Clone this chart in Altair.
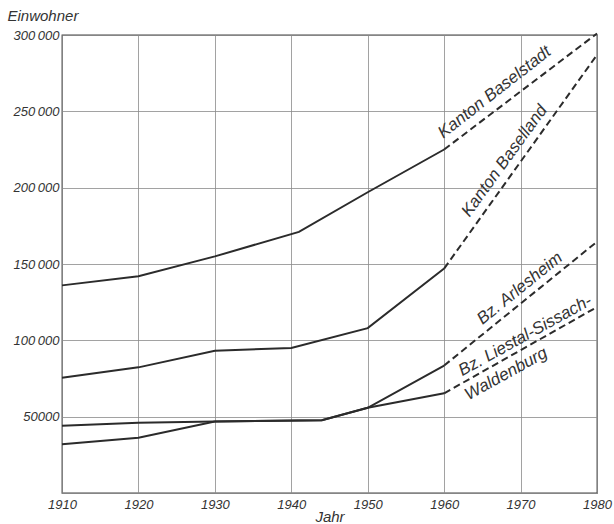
import altair as alt
import pandas as pd

# Observed series (solid) and projection to 1980 (dashed)
bs_years = [1910, 1920, 1930, 1941, 1950, 1960]
bs_vals = [136000, 142000, 155000, 171000, 197000, 225000]
bl_years = [1910, 1920, 1930, 1940, 1950, 1960]
bl_vals = [75500, 82300, 93200, 95000, 108000, 147000]
ar_years = [1910, 1920, 1930, 1944, 1950, 1960]
ar_vals = [32000, 36200, 46800, 47600, 55800, 83500]
lsw_years = [1910, 1920, 1930, 1944, 1950, 1960]
lsw_vals = [44100, 46000, 46800, 47600, 55800, 65300]

proj_1980 = {"Baselstadt": 301000, "Baselland": 287000, "Arlesheim": 164600, "LSW": 121800}

series = {
    "Baselstadt": (bs_years, bs_vals),
    "Baselland": (bl_years, bl_vals),
    "Arlesheim": (ar_years, ar_vals),
    "LSW": (lsw_years, lsw_vals),
}

solid_rows, dash_rows = [], []
for name, (ys, vs) in series.items():
    for y, v in zip(ys, vs):
        solid_rows.append({"series": name, "year": y, "value": v})
    dash_rows.append({"series": name, "year": ys[-1], "value": vs[-1]})
    dash_rows.append({"series": name, "year": 1980, "value": proj_1980[name]})

solid = pd.DataFrame(solid_rows)
dashed = pd.DataFrame(dash_rows)

label_text = ["Kanton Baselstadt", "Kanton Baselland", "Bz. Arlesheim", "Bz. Liestal-Sissach-", "Waldenburg"]
label_year = [1966.6, 1967.9, 1969.9, 1970.6, 1968.1]
label_value = [262500, 217500, 134000, 103000, 78000]
label_angle = [322, 306, 321, 331, 331]
labels = pd.DataFrame({"text": label_text, "year": label_year, "value": label_value, "angle": label_angle})

FONT = "Liberation Sans"
LINE = "#2b2b2b"

xs = alt.Scale(domain=[1910, 1980], nice=False)
ysc = alt.Scale(domain=[0, 300000], nice=False)

thin = "\u2009"
y_axis = alt.Axis(
    values=[0, 50000, 100000, 150000, 200000, 250000, 300000],
    labelExpr=f"datum.value == 0 ? '' : datum.value < 100000 ? '' + datum.value : floor(datum.value/1000) + '{thin}000'",
    title="Einwohner", titleAngle=0, titleX=-55, titleY=-15, titleAlign="left",
    titleBaseline="alphabetic", titleFont=FONT, titleFontSize=15, titleFontStyle="italic",
    titleFontWeight="normal", titleColor="#333",
    labelFont=FONT, labelFontSize=13, labelFontStyle="italic", labelColor="#333",
    labelPadding=3, tickSize=0, domain=False, labelFlush=False,
    grid=True, gridColor="#8a8a8a", gridWidth=0.8,
)
x_axis = alt.Axis(
    values=[1910, 1920, 1930, 1940, 1950, 1960, 1970, 1980], format="d",
    title="Jahr", titleFont=FONT, titleFontSize=15, titleFontStyle="italic",
    titleFontWeight="normal", titleColor="#333", titleY=28, titleBaseline="alphabetic",
    labelFont=FONT, labelFontSize=13, labelFontStyle="italic", labelColor="#333",
    labelPadding=5, tickSize=0, domain=False, labelFlush=False,
    grid=True, gridColor="#8a8a8a", gridWidth=0.8,
)

base_x = alt.X("year:Q", scale=xs, axis=x_axis)
base_y = alt.Y("value:Q", scale=ysc, axis=y_axis)

solid_layer = alt.Chart(solid).mark_line(color=LINE, strokeWidth=2).encode(
    x=base_x, y=base_y, detail="series:N", order="year:Q"
)
dash_layer = alt.Chart(dashed).mark_line(color=LINE, strokeWidth=2, strokeDash=[7, 4]).encode(
    x=alt.X("year:Q", scale=xs), y=alt.Y("value:Q", scale=ysc), detail="series:N"
)
text_layer = alt.Chart(labels).mark_text(
    font=FONT, fontSize=17, fontStyle="italic", color="#333", align="center", baseline="middle"
).encode(
    x=alt.X("year:Q", scale=xs), y=alt.Y("value:Q", scale=ysc), text="text:N", angle=alt.Angle("angle:Q", scale=None)
)

chart = alt.layer(solid_layer, dash_layer, text_layer).properties(
    width=535, height=458,
    autosize=alt.AutoSizeParams(type="none"),
    padding={"left": 62, "top": 35, "right": 17, "bottom": 31},
    background="white",
).configure_view(stroke="#444", strokeWidth=1.3)

chart.save("out.html", embed_options={"renderer": "svg", "actions": False})
